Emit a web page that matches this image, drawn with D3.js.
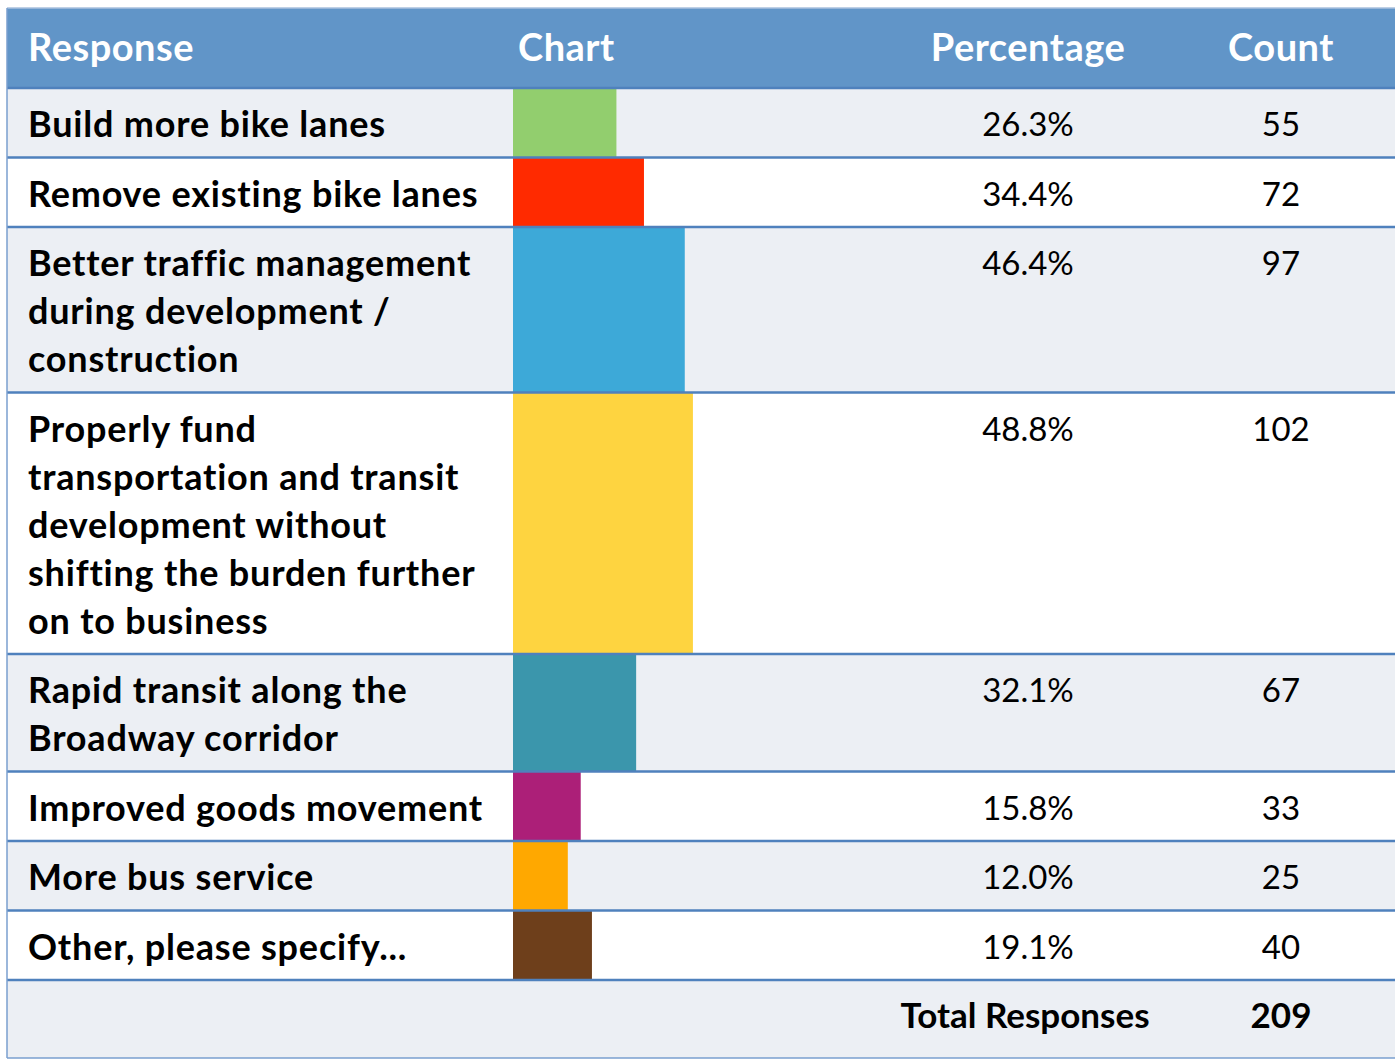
<!DOCTYPE html>
<html>
<head>
<meta charset="utf-8">
<script src="https://cdn.jsdelivr.net/npm/d3@7"></script>
<style>
  body { margin: 0; background: #fff; }
  text { font-family: Lato, "Open Sans", sans-serif; }
</style>
</head>
<body>
<div id="chart"></div>
<script>
// survey results
var responses = [
    ["Build more bike lanes"],
    ["Remove existing bike lanes"],
    ["Better traffic management", "during development /", "construction"],
    ["Properly fund", "transportation and transit", "development without", "shifting the burden further", "on to business"],
    ["Rapid transit along the", "Broadway corridor"],
    ["Improved goods movement"],
    ["More bus service"],
    ["Other, please specify..."]
];
var percentages = [26.3, 34.4, 46.4, 48.8, 32.1, 15.8, 12.0, 19.1];
var counts = [55, 72, 97, 102, 67, 33, 25, 40];
var totalResponses = 209;
var headers = ["Response", "Chart", "Percentage", "Count"];
var barColors = ["#92ce6e", "#ff2a00", "#3da9d8", "#fed440", "#3b96ac", "#ac1f78", "#ffa800", "#6e3f1b"];

var svgWidth = 1395;
var svgHeight = 1060;

var tableLeft = 7;
var tableTop = 8;
var headerHeight = 80;
var lineHeight = 48;
var rowPad = 21.5;
var totalHeight = 78;

var barX = 513;
var pctX = 1028;
var countX = 1281;

var svg = d3.select("#chart")
            .append("svg")
            .attr("width", svgWidth)
            .attr("height", svgHeight);

// row layout
var rows = [];
var y = tableTop + headerHeight;
responses.forEach(function(lines, i) {
    var h = rowPad + lineHeight * lines.length;
    rows.push({lines: lines, pct: percentages[i], count: counts[i], color: barColors[i], y: y, h: h, i: i});
    y += h;
});
var totalY = y;

var xScale = d3.scaleLinear()
               .domain([0, 100])
               .range([14, 354]);

// header
svg.append("rect")
   .attr("x", tableLeft)
   .attr("y", tableTop)
   .attr("width", svgWidth - tableLeft)
   .attr("height", headerHeight)
   .attr("fill", "#6195c8");

var headerX = [28, 518, pctX, countX];
var headerAnchor = ["start", "start", "middle", "middle"];
svg.selectAll(".header")
   .data(headers)
   .enter()
   .append("text")
   .attr("class", "header")
   .attr("x", (d, i) => headerX[i])
   .attr("y", tableTop + 53)
   .attr("text-anchor", (d, i) => headerAnchor[i])
   .attr("fill", "#fff")
   .attr("font-size", 38)
   .attr("letter-spacing", 0.5)
   .attr("font-weight", "bold")
   .text(d => d);

// rows
var rowGroups = svg.selectAll(".row")
                   .data(rows)
                   .enter()
                   .append("g")
                   .attr("class", "row")
                   .attr("transform", d => `translate(0, ${d.y})`);

rowGroups.append("rect")
         .attr("x", tableLeft)
         .attr("y", 0)
         .attr("width", svgWidth - tableLeft)
         .attr("height", d => d.h)
         .attr("fill", d => d.i % 2 == 0 ? "#eceff4" : "#ffffff");

rowGroups.append("rect")
         .attr("x", barX)
         .attr("y", 0)
         .attr("width", d => xScale(d.pct))
         .attr("height", d => d.h)
         .attr("fill", d => d.color);

rowGroups.each(function(d) {
    d3.select(this).selectAll(".label")
      .data(d.lines)
      .enter()
      .append("text")
      .attr("class", "label")
      .attr("x", 28)
      .attr("y", (l, j) => 49 + j * lineHeight)
      .attr("font-size", 36)
      .attr("letter-spacing", 0.8)
      .attr("font-weight", "bold")
      .attr("fill", "#000")
      .text(l => l);
});

rowGroups.append("text")
         .attr("x", pctX)
         .attr("y", 48)
         .attr("text-anchor", "middle")
         .attr("font-size", 33)
         .attr("fill", "#000")
         .text(d => d.pct.toFixed(1) + "%");

rowGroups.append("text")
         .attr("x", countX)
         .attr("y", 48)
         .attr("text-anchor", "middle")
         .attr("font-size", 33)
         .attr("fill", "#000")
         .text(d => d.count);

// total row
svg.append("rect")
   .attr("x", tableLeft)
   .attr("y", totalY)
   .attr("width", svgWidth - tableLeft)
   .attr("height", totalHeight)
   .attr("fill", "#eceff4");

svg.append("text")
   .attr("x", 1025)
   .attr("y", totalY + 48)
   .attr("text-anchor", "middle")
   .attr("font-size", 35)
   .attr("font-weight", "bold")
   .text("Total Responses");

svg.append("text")
   .attr("x", countX)
   .attr("y", totalY + 48)
   .attr("text-anchor", "middle")
   .attr("font-size", 35)
   .attr("font-weight", "bold")
   .text(totalResponses);

// grid lines
var lineYs = rows.map(d => d.y).concat([totalY]);
svg.selectAll(".hline")
   .data(lineYs)
   .enter()
   .append("line")
   .attr("class", "hline")
   .attr("x1", tableLeft)
   .attr("x2", svgWidth)
   .attr("y1", d => d)
   .attr("y2", d => d)
   .attr("stroke", "#4f81bd")
   .attr("stroke-width", 2.5);

svg.append("line")
   .attr("x1", tableLeft)
   .attr("x2", svgWidth)
   .attr("y1", totalY + totalHeight)
   .attr("y2", totalY + totalHeight)
   .attr("stroke", "#7a9fcf")
   .attr("stroke-width", 1.5);

svg.append("line")
   .attr("x1", tableLeft)
   .attr("x2", svgWidth)
   .attr("y1", tableTop)
   .attr("y2", tableTop)
   .attr("stroke", "#a9c1de")
   .attr("stroke-width", 1.5);

svg.append("line")
   .attr("x1", tableLeft)
   .attr("x2", tableLeft)
   .attr("y1", tableTop)
   .attr("y2", totalY + totalHeight)
   .attr("stroke", "#7a9fcf")
   .attr("stroke-width", 1.5);
</script>
</body>
</html>
